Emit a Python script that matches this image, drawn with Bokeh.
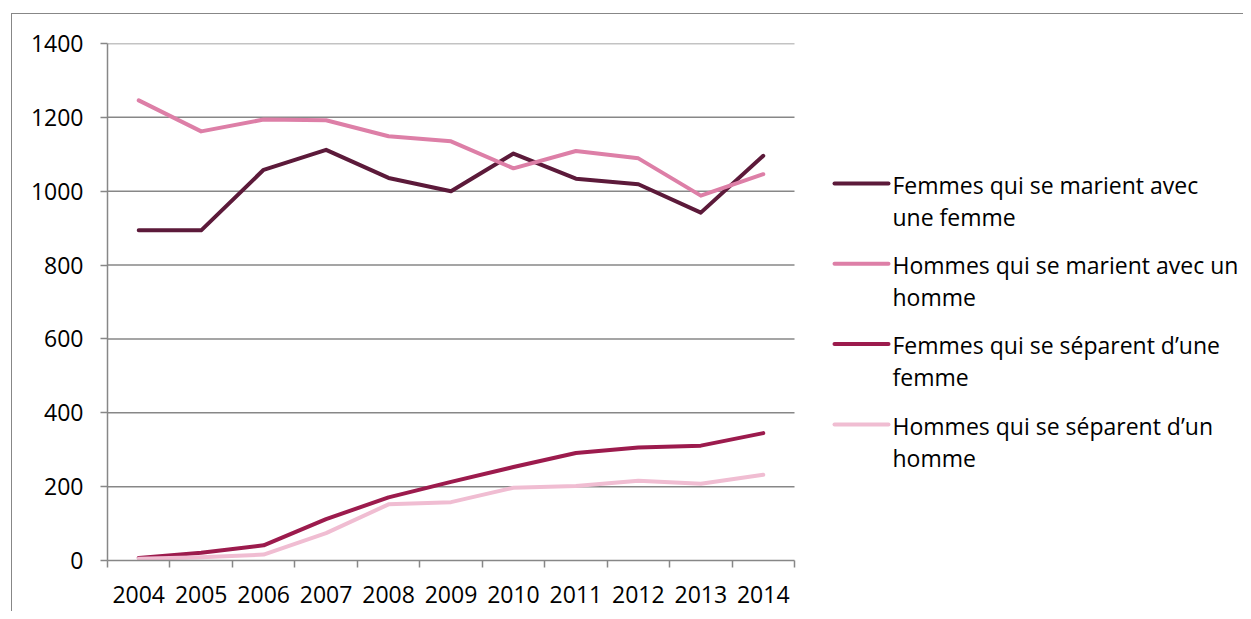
from bokeh.plotting import figure
from bokeh.models import Range1d, FixedTicker
from bokeh.core.properties import value
from bokeh.embed import file_html
from bokeh.resources import INLINE

# ---------------- data ----------------
years = ["2004", "2005", "2006", "2007", "2008", "2009", "2010", "2011", "2012", "2013", "2014"]
femmes_mariage = [894, 894, 1058, 1112, 1036, 1000, 1102, 1034, 1019, 942, 1096]
hommes_mariage = [1246, 1162, 1194, 1192, 1149, 1135, 1062, 1109, 1089, 988, 1046]
femmes_separation = [7, 21, 41, 112, 171, 213, 253, 291, 306, 311, 345]
hommes_separation = [5, 9, 16, 74, 152, 158, 197, 202, 216, 208, 232]
y_ticks = [0, 200, 400, 600, 800, 1000, 1200, 1400]
series_labels = [
    ["Femmes qui se marient avec", "une femme"],
    ["Hommes qui se marient avec un", "homme"],
    ["Femmes qui se s\u00e9parent d\u2019une", "femme"],
    ["Hommes qui se s\u00e9parent d\u2019un", "homme"],
]
series_values = [femmes_mariage, hommes_mariage, femmes_separation, hommes_separation]
series_colors = ["#5c1a3a", "#dd7fa7", "#9c1b4d", "#f0bdd2"]

# ---------------- layout ----------------
W, H = 1243, 611
LEFT, TOP = 107, 43
PLOT_BOTTOM = 560
BOTTOM = H - PLOT_BOTTOM
frame_w = W - LEFT
frame_h = PLOT_BOTTOM - TOP
n = len(years)
cat_px = 687.0 / n
x_end = frame_w / cat_px
y_max = y_ticks[-1]
px_per_unit = frame_h / y_max

def dx(px):  # canvas px -> data x
    return (px - LEFT) / cat_px

def dy(py):  # canvas px -> data y
    return (PLOT_BOTTOM - py) / px_per_unit

FONT = value("Open Sans")
GRAY = "#878787"

p = figure(width=W, height=H, output_backend="svg", toolbar_location=None,
           x_range=Range1d(0, x_end), y_range=Range1d(0, y_max),
           min_border_left=LEFT, min_border_right=0, min_border_top=TOP,
           min_border_bottom=BOTTOM)
p.outline_line_color = None
p.xgrid.visible = False
p.ygrid.visible = False
p.background_fill_color = None
p.border_fill_color = None
# outer chart-area border (left and top edges, the rest runs off the page)
p.styles = {
    "background-color": "white",
    "background-image": "linear-gradient(#878787,#878787), linear-gradient(#878787,#878787)",
    "background-size": "1px 100%, 100% 1px",
    "background-position": "11px 13px, 11px 13px",
    "background-repeat": "no-repeat",
}

# gridlines (only over the category span)
grid_y = [t for t in y_ticks if t > 0]
p.segment(x0=[0] * len(grid_y), x1=[n] * len(grid_y), y0=grid_y, y1=grid_y,
          line_color=GRAY, line_width=1.5)

# axes
xa = p.xaxis[0]
centers = [i + 0.5 for i in range(n)]
xa.ticker = FixedTicker(ticks=centers, minor_ticks=list(range(n + 1)))
xa.major_label_overrides = {c: y for c, y in zip(centers, years)}
xa.bounds = (0, n)
xa.axis_line_color = GRAY
xa.axis_line_width = 1.5
xa.major_tick_line_color = None
xa.minor_tick_line_color = GRAY
xa.minor_tick_line_width = 1.5
xa.minor_tick_in = 0
xa.minor_tick_out = 7
xa.major_label_text_font = "Open Sans"
xa.major_label_text_font_size = "23px"
xa.major_label_text_color = "#000000"
xa.major_label_standoff = 18

ya = p.yaxis[0]
ya.ticker = FixedTicker(ticks=y_ticks)
ya.bounds = (0, y_max)
ya.axis_line_color = GRAY
ya.axis_line_width = 1.5
ya.major_tick_line_color = GRAY
ya.major_tick_line_width = 1.5
ya.major_tick_in = 0
ya.major_tick_out = 7
ya.minor_tick_line_color = None
ya.major_label_text_font = "Open Sans"
ya.major_label_text_font_size = "23px"
ya.major_label_text_color = "#000000"
ya.major_label_standoff = 17

# series
for vals, col in zip(series_values, series_colors):
    p.line(centers, vals, line_color=col, line_width=4, line_join="round", line_cap="round")

# legend (manual, for wrapped labels)
leg_y = [183, 263.3, 343.6, 424]
for (l1, l2), col, py in zip(series_labels, series_colors, leg_y):
    p.segment(x0=[dx(834)], x1=[dx(888)], y0=[dy(py)], y1=[dy(py)],
              line_color=col, line_width=4, line_cap="round")
    p.text(x=[dx(892), dx(892)], y=[dy(py + 1), dy(py + 33)], text=[l1, l2],
           text_font=FONT, text_font_size="23px", text_color="#000000",
           text_baseline="middle", text_align="left")

open("out.html", "w").write(file_html(p, INLINE))
